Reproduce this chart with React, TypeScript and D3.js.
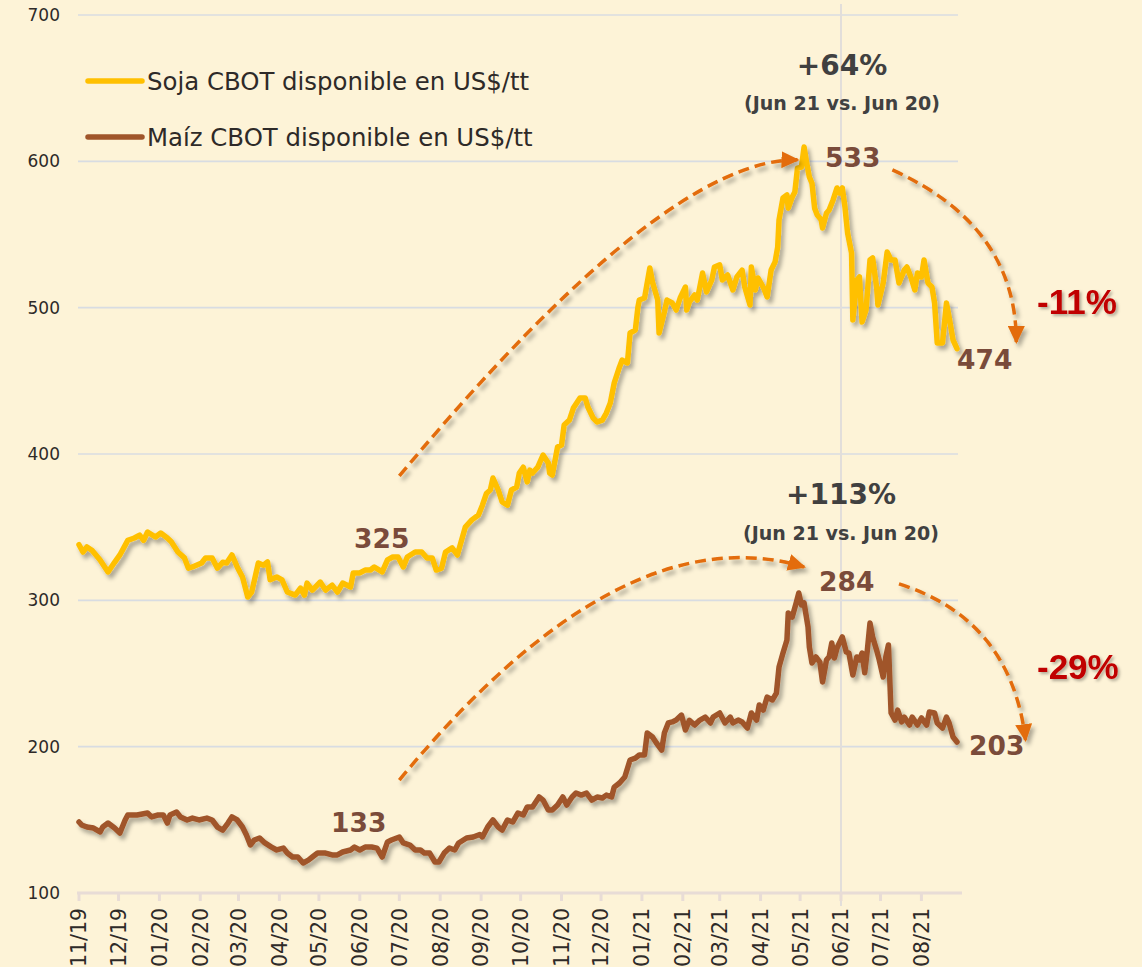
import React from "react";
import * as d3 from "d3";

// ---------- DATA ----------
const soja: [string, number][] = [
  ["2019-11-01", 338], ["2019-11-04", 333], ["2019-11-07", 336.5], ["2019-11-11", 334], ["2019-11-17", 327.6],
  ["2019-11-23", 319.4], ["2019-11-28", 326], ["2019-12-02", 331], ["2019-12-08", 341], ["2019-12-13", 342.6],
  ["2019-12-17", 344.6], ["2019-12-20", 341], ["2019-12-23", 346.7], ["2019-12-29", 343.3], ["2020-01-02", 346],
  ["2020-01-07", 342.6], ["2020-01-10", 340], ["2020-01-15", 333], ["2020-01-20", 329], ["2020-01-23", 322],
  ["2020-01-26", 322.8], ["2020-02-02", 325.5], ["2020-02-05", 329], ["2020-02-10", 329], ["2020-02-14", 322],
  ["2020-02-18", 326], ["2020-02-21", 325.5], ["2020-02-25", 331], ["2020-02-29", 322.8], ["2020-03-04", 316],
  ["2020-03-08", 302.3], ["2020-03-11", 305.7], ["2020-03-16", 325.5], ["2020-03-20", 324], ["2020-03-23", 326.2],
  ["2020-03-25", 314], ["2020-03-30", 316], ["2020-04-03", 314], ["2020-04-07", 305.7], ["2020-04-13", 303.6],
  ["2020-04-17", 308.4], ["2020-04-20", 303.6], ["2020-04-22", 311.8], ["2020-04-26", 307], ["2020-05-02", 312.5],
  ["2020-05-06", 307], ["2020-05-11", 310.4], ["2020-05-15", 305.7], ["2020-05-19", 311.8], ["2020-05-25", 309.1],
  ["2020-05-27", 318.7], ["2020-06-01", 318.7], ["2020-06-05", 320.7], ["2020-06-09", 320.7], ["2020-06-12", 322.8],
  ["2020-06-18", 319.4], ["2020-06-22", 327.6], ["2020-06-26", 329.6], ["2020-06-30", 329.6], ["2020-07-04", 322.8],
  ["2020-07-07", 329.6], ["2020-07-13", 333], ["2020-07-18", 333], ["2020-07-22", 328.9], ["2020-07-26", 328.9],
  ["2020-07-29", 320.7], ["2020-08-02", 322], ["2020-08-05", 333], ["2020-08-10", 335.8], ["2020-08-14", 331],
  ["2020-08-20", 350], ["2020-08-25", 355], ["2020-08-30", 358.3], ["2020-09-02", 365], ["2020-09-05", 373],
  ["2020-09-08", 375.4], ["2020-09-10", 383.6], ["2020-09-14", 375.4], ["2020-09-17", 367.2], ["2020-09-21", 365],
  ["2020-09-24", 375.4], ["2020-09-28", 377.4], ["2020-09-30", 387], ["2020-10-03", 391], ["2020-10-06", 380.9],
  ["2020-10-08", 389], ["2020-10-10", 387], ["2020-10-14", 391], ["2020-10-18", 399.3], ["2020-10-22", 393.8],
  ["2020-10-23", 387], ["2020-10-25", 385.6], ["2020-10-29", 404.8], ["2020-11-01", 406.1], ["2020-11-03", 419.8],
  ["2020-11-07", 423.2], ["2020-11-10", 431.4], ["2020-11-15", 438.3], ["2020-11-19", 438.3], ["2020-11-21", 432.1],
  ["2020-11-25", 424.6], ["2020-11-28", 421.9], ["2020-12-02", 423.2], ["2020-12-05", 428], ["2020-12-08", 434.9],
  ["2020-12-11", 448.6], ["2020-12-15", 459.5], ["2020-12-17", 464.2], ["2020-12-21", 462.2], ["2020-12-23", 482.7],
  ["2020-12-27", 484.7], ["2020-12-29", 500.5], ["2020-12-30", 505.2], ["2021-01-03", 506.6], ["2021-01-07", 527.1],
  ["2021-01-09", 517.5], ["2021-01-13", 505.2], ["2021-01-14", 482.7], ["2021-01-18", 497], ["2021-01-20", 505.2],
  ["2021-01-24", 503.2], ["2021-01-27", 498.4], ["2021-01-30", 506.6], ["2021-02-03", 514.1], ["2021-02-04", 498.4],
  ["2021-02-06", 503.9], ["2021-02-10", 508.7], ["2021-02-12", 505.2], ["2021-02-16", 523.7], ["2021-02-19", 510.7],
  ["2021-02-23", 518.9], ["2021-02-25", 527.8], ["2021-03-01", 529.2], ["2021-03-03", 518.9], ["2021-03-07", 522.3],
  ["2021-03-11", 512.1], ["2021-03-14", 521], ["2021-03-18", 525.7], ["2021-03-20", 514.1], ["2021-03-24", 501.8],
  ["2021-03-25", 527.8], ["2021-03-28", 512.1], ["2021-03-30", 520.3], ["2021-04-03", 514.1], ["2021-04-06", 507.3],
  ["2021-04-09", 525.7], ["2021-04-12", 531.2], ["2021-04-14", 541.5], ["2021-04-15", 560], ["2021-04-18", 575],
  ["2021-04-21", 577], ["2021-04-22", 568], ["2021-04-25", 575.6], ["2021-04-27", 579], ["2021-04-29", 595.4],
  ["2021-05-02", 596], ["2021-05-04", 609.8], ["2021-05-06", 598.8], ["2021-05-08", 589.3], ["2021-05-10", 585],
  ["2021-05-12", 568], ["2021-05-14", 563.3], ["2021-05-17", 560], ["2021-05-18", 554.4], ["2021-05-21", 564.7],
  ["2021-05-23", 566.7], ["2021-05-26", 573.6], ["2021-05-29", 581.8], ["2021-05-31", 578.3], ["2021-06-02", 581.8],
  ["2021-06-04", 568.8], ["2021-06-06", 551], ["2021-06-09", 537.3], ["2021-06-10", 491.6], ["2021-06-13", 518.9],
  ["2021-06-15", 521], ["2021-06-17", 490.2], ["2021-06-20", 498.4], ["2021-06-23", 532.6], ["2021-06-25", 534],
  ["2021-06-28", 514.1], ["2021-06-29", 501.8], ["2021-07-03", 516.8], ["2021-07-06", 538], ["2021-07-09", 532.6],
  ["2021-07-12", 532.6], ["2021-07-15", 516.8], ["2021-07-19", 525.7], ["2021-07-21", 527.8], ["2021-07-24", 521],
  ["2021-07-27", 512.1], ["2021-07-29", 523.7], ["2021-08-01", 521], ["2021-08-03", 532.6], ["2021-08-06", 516.8],
  ["2021-08-09", 514.1], ["2021-08-11", 503.2], ["2021-08-13", 475.9], ["2021-08-17", 475.9], ["2021-08-20", 503.2],
  ["2021-08-22", 493.6], ["2021-08-25", 477.9], ["2021-08-28", 472],
];

const maiz: [string, number][] = [
  ["2019-11-01", 148.5], ["2019-11-03", 146.5], ["2019-11-07", 145.1], ["2019-11-12", 144.4], ["2019-11-17", 141.7],
  ["2019-11-19", 145.1], ["2019-11-23", 147.8], ["2019-11-28", 144.4], ["2019-12-02", 141], ["2019-12-06", 149.9],
  ["2019-12-08", 153.3], ["2019-12-15", 153.3], ["2019-12-23", 154.7], ["2019-12-26", 152], ["2019-12-31", 153.3],
  ["2020-01-04", 153.3], ["2020-01-07", 147.8], ["2020-01-09", 153.3], ["2020-01-14", 155.3], ["2020-01-17", 152],
  ["2020-01-22", 149.9], ["2020-01-26", 151.2], ["2020-01-31", 149.9], ["2020-02-06", 151.2], ["2020-02-10", 149.9],
  ["2020-02-14", 145.1], ["2020-02-18", 143], ["2020-02-22", 147.8], ["2020-02-25", 152], ["2020-02-29", 149.9],
  ["2020-03-04", 145.1], ["2020-03-07", 139.6], ["2020-03-10", 132.8], ["2020-03-13", 136.2], ["2020-03-17", 137.6],
  ["2020-03-21", 134.2], ["2020-03-26", 131.4], ["2020-03-30", 129.4], ["2020-04-04", 130.7], ["2020-04-07", 127.3],
  ["2020-04-11", 124.6], ["2020-04-15", 124.6], ["2020-04-19", 120.5], ["2020-04-23", 122.5], ["2020-04-26", 124.6],
  ["2020-04-30", 127.3], ["2020-05-06", 127.3], ["2020-05-11", 126], ["2020-05-15", 126], ["2020-05-19", 128],
  ["2020-05-25", 129.4], ["2020-05-28", 131.4], ["2020-06-01", 129.4], ["2020-06-05", 131.4], ["2020-06-10", 131.4],
  ["2020-06-14", 130.7], ["2020-06-18", 124.6], ["2020-06-22", 134.9], ["2020-06-25", 136.2], ["2020-06-29", 137.6],
  ["2020-07-01", 138.3], ["2020-07-04", 134.2], ["2020-07-09", 132.8], ["2020-07-13", 129.4], ["2020-07-17", 129.4],
  ["2020-07-20", 127.3], ["2020-07-24", 127.3], ["2020-07-28", 121.2], ["2020-07-31", 121.2], ["2020-08-04", 127.3],
  ["2020-08-08", 130.7], ["2020-08-12", 129.4], ["2020-08-15", 134.2], ["2020-08-21", 137.6], ["2020-08-26", 138.3],
  ["2020-08-31", 140], ["2020-09-02", 138.3], ["2020-09-06", 145.1], ["2020-09-10", 149.9], ["2020-09-14", 145.1],
  ["2020-09-17", 143], ["2020-09-21", 149.9], ["2020-09-25", 148.5], ["2020-09-29", 154.7], ["2020-10-03", 153.3],
  ["2020-10-06", 158.8], ["2020-10-10", 158.8], ["2020-10-15", 165.6], ["2020-10-18", 163.5], ["2020-10-22", 156.7],
  ["2020-10-25", 156.7], ["2020-10-29", 160.1], ["2020-11-02", 165.6], ["2020-11-05", 160.1], ["2020-11-09", 165.6],
  ["2020-11-12", 168.3], ["2020-11-16", 166.9], ["2020-11-20", 168.3], ["2020-11-24", 163.5], ["2020-11-28", 165.6],
  ["2020-12-02", 164.9], ["2020-12-05", 166.9], ["2020-12-09", 165.6], ["2020-12-11", 172.4], ["2020-12-15", 175.2],
  ["2020-12-19", 179.3], ["2020-12-23", 190.9], ["2020-12-27", 192.2], ["2020-12-30", 194.3], ["2021-01-03", 194.3],
  ["2021-01-05", 209.3], ["2021-01-09", 206.6], ["2021-01-12", 202.5], ["2021-01-16", 197.7], ["2021-01-18", 209.3],
  ["2021-01-21", 216.2], ["2021-01-24", 216.9], ["2021-01-27", 218.2], ["2021-01-31", 221.6], ["2021-02-03", 211.4],
  ["2021-02-06", 218], ["2021-02-10", 214.8], ["2021-02-14", 218.2], ["2021-02-18", 220.2], ["2021-02-22", 216.2],
  ["2021-02-24", 220.2], ["2021-03-01", 223], ["2021-03-05", 216.2], ["2021-03-09", 220.2], ["2021-03-11", 216.2],
  ["2021-03-15", 218.2], ["2021-03-18", 216.9], ["2021-03-22", 212.7], ["2021-03-25", 223], ["2021-03-29", 218.2],
  ["2021-03-31", 228.5], ["2021-04-03", 225], ["2021-04-06", 233.9], ["2021-04-10", 231.9], ["2021-04-13", 236.6],
  ["2021-04-15", 254.4], ["2021-04-18", 264], ["2021-04-21", 272.9], ["2021-04-22", 291.3], ["2021-04-25", 288.6],
  ["2021-04-28", 298.2], ["2021-04-30", 305], ["2021-05-02", 296.8], ["2021-05-04", 298.2], ["2021-05-07", 281.8],
  ["2021-05-08", 268.1], ["2021-05-10", 257.2], ["2021-05-13", 261.3], ["2021-05-16", 257.8], ["2021-05-18", 244.2],
  ["2021-05-21", 259.3], ["2021-05-23", 261.3], ["2021-05-25", 270.8], ["2021-05-27", 260.6], ["2021-05-29", 267.4],
  ["2021-06-02", 275], ["2021-06-05", 264.7], ["2021-06-07", 264], ["2021-06-10", 249], ["2021-06-13", 261.3],
  ["2021-06-15", 259.3], ["2021-06-17", 264], ["2021-06-19", 250.5], ["2021-06-21", 266], ["2021-06-23", 284.5],
  ["2021-06-25", 275], ["2021-06-28", 266], ["2021-06-30", 259.3], ["2021-07-03", 247.6], ["2021-07-05", 261.3],
  ["2021-07-07", 269.5], ["2021-07-09", 223], ["2021-07-12", 218.2], ["2021-07-14", 225], ["2021-07-17", 216.9],
  ["2021-07-19", 220.2], ["2021-07-23", 214.8], ["2021-07-25", 220.2], ["2021-07-29", 214.8], ["2021-08-01", 219.6],
  ["2021-08-05", 214.8], ["2021-08-07", 223.7], ["2021-08-11", 223], ["2021-08-13", 216.2], ["2021-08-17", 212.7],
  ["2021-08-20", 220.2], ["2021-08-22", 216.2], ["2021-08-25", 206.6], ["2021-08-28", 203.2],
];

const yTicks = [100, 200, 300, 400, 500, 600, 700];
const xDomain = ["2019-11-01", "2021-08-28"];
const markerDate = "2021-06-01";
const legendLabels = ["Soja CBOT disponible en US$/tt", "Maíz CBOT disponible en US$/tt"];

// Annotation arcs (start, control, end) in data space [date, value]
const arcs: [string, number][][] = [
  [["2020-07-01", 385], ["2021-01-18", 602.3], ["2021-04-29", 601]],
  [["2021-07-10", 594.1], ["2021-10-12", 555.8], ["2021-10-12", 476.5]],
  [["2020-07-01", 177.2], ["2020-12-16", 360.4], ["2021-05-04", 322.8]],
  [["2021-07-15", 311.2], ["2021-10-08", 287], ["2021-10-19", 204.5]],
];

// ---------- LAYOUT ----------
const W = 1142, H = 967;
const FONT = "'DejaVu Sans', Verdana, sans-serif";
const BG = "#FDF3D7";
const SOJA = "#FFC000";
const MAIZ = "#A0552A";
const ORANGE = "#E36C09";
const LABEL = "#7A4B3A";

const parse = d3.utcParse("%Y-%m-%d");
const x = d3.scaleUtc().domain(xDomain.map((s) => parse(s)!)).range([79, 957]);
const y = d3.scaleLinear().domain([100, 700]).range([893, 15]);
const fmt = d3.utcFormat("%m/%y");

export default function App() {
  const line = d3
    .line<[string, number]>()
    .x((d) => x(parse(d[0])!))
    .y((d) => y(d[1]));
  const months = d3.utcMonth.range(parse(xDomain[0])!, parse(xDomain[1])!);
  const arcPath = (a: [string, number][]) => {
    const p = d3.path();
    const P = a.map((d) => [x(parse(d[0])!), y(d[1])]);
    p.moveTo(P[0][0], P[0][1]);
    p.quadraticCurveTo(P[1][0], P[1][1], P[2][0], P[2][1]);
    return p.toString();
  };
  const mx = x(parse(markerDate)!);

  return (
    <svg
      width={W}
      height={H}
      style={{ position: "absolute", left: 0, top: 0, display: "block", background: BG }}
    >
      <defs>
        <filter id="sh" x="-10%" y="-10%" width="120%" height="130%">
          <feDropShadow dx="3" dy="4" stdDeviation="2.2" floodColor="#000" floodOpacity="0.32" />
        </filter>
        <filter id="tsh" x="-10%" y="-10%" width="130%" height="140%">
          <feDropShadow dx="2" dy="2" stdDeviation="1.5" floodColor="#000" floodOpacity="0.3" />
        </filter>
        <marker id="arr" markerUnits="userSpaceOnUse" markerWidth="19" markerHeight="17" refX="16" refY="8.5" orient="auto">
          <path d="M0,0 L18,8.5 L0,17 Z" fill={ORANGE} />
        </marker>
      </defs>
      <rect width={W} height={H} fill={BG} />

      {/* grid */}
      {yTicks.filter((t) => t > 100).map((t) => (
        <line key={t} x1={78} x2={958} y1={y(t)} y2={y(t)} stroke="#D8DCE2" strokeWidth={1.6} />
      ))}
      <line x1={mx} x2={mx} y1={4} y2={906} stroke="#E2DEDA" strokeWidth={2} />

      {/* x axis */}
      <line x1={77} x2={962} y1={y(100)} y2={y(100)} stroke="#E8DCD6" strokeWidth={3} />
      {months.map((m) => (
        <g key={+m} transform={`translate(${x(m)},${y(100)})`}>
          <line y1={0} y2={8} stroke="#E8DCD6" strokeWidth={3} />
          <text
            transform="translate(0,15) rotate(-90)"
            textAnchor="end"
            dy="0.36em"
            fontFamily={FONT}
            fontSize={20.5}
            fill="#2E2A28"
          >
            {fmt(m)}
          </text>
        </g>
      ))}

      {/* y labels */}
      {yTicks.map((t) => (
        <text key={t} x={60} y={y(t)} dy="0.36em" textAnchor="end" fontFamily={FONT} fontSize={17} fill="#2E2A28">
          {t}
        </text>
      ))}

      {/* series */}
      <g filter="url(#sh)">
        <path d={line(soja) || ""} fill="none" stroke={SOJA} strokeWidth={5.5} strokeLinejoin="round" strokeLinecap="round" />
        <path d={line(maiz) || ""} fill="none" stroke={MAIZ} strokeWidth={5.5} strokeLinejoin="round" strokeLinecap="round" />
      </g>

      {/* arcs */}
      <g filter="url(#sh)">
        {arcs.map((a, i) => (
          <path
            key={i}
            d={arcPath(a)}
            fill="none"
            stroke={ORANGE}
            strokeWidth={3.5}
            strokeDasharray="11 6"
            markerEnd="url(#arr)"
          />
        ))}
      </g>

      {/* legend */}
      {legendLabels.map((l, i) => (
        <g key={l} transform={`translate(88,${81 + i * 56})`}>
          <line x1={0} x2={54} stroke={i === 0 ? SOJA : MAIZ} strokeWidth={5.5} strokeLinecap="round" />
          <text x={59} dy="0.36em" fontFamily={FONT} fontSize={24.4} fill="#2E2A28">
            {l}
          </text>
        </g>
      ))}

      {/* value labels */}
      <g fontFamily={FONT} fontWeight="bold" fontSize={26.5} fill={LABEL}>
        <text x={354} y={548}>325</text>
        <text x={331} y={832}>133</text>
        <text x={825} y={167}>533</text>
        <text x={819} y={591}>284</text>
        <text x={957} y={369}>474</text>
        <text x={969} y={755}>203</text>
      </g>

      {/* percent labels */}
      <g fontFamily={FONT} fontWeight="bold" fill="#404040" textAnchor="middle">
        <text x={842} y={75} fontSize={28}>+64%</text>
        <text x={842} y={110} fontSize={19}>(Jun 21 vs. Jun 20)</text>
        <text x={841} y={504} fontSize={28}>+113%</text>
        <text x={841} y={540} fontSize={19}>(Jun 21 vs. Jun 20)</text>
      </g>
      <g fontFamily="'Liberation Sans', Arial, sans-serif" fontWeight="bold" fill="#C00000" fontSize={35} filter="url(#tsh)">
        <text x={1037} y={314}>-11%</text>
        <text x={1037} y={679}>-29%</text>
      </g>
    </svg>
  );
}
